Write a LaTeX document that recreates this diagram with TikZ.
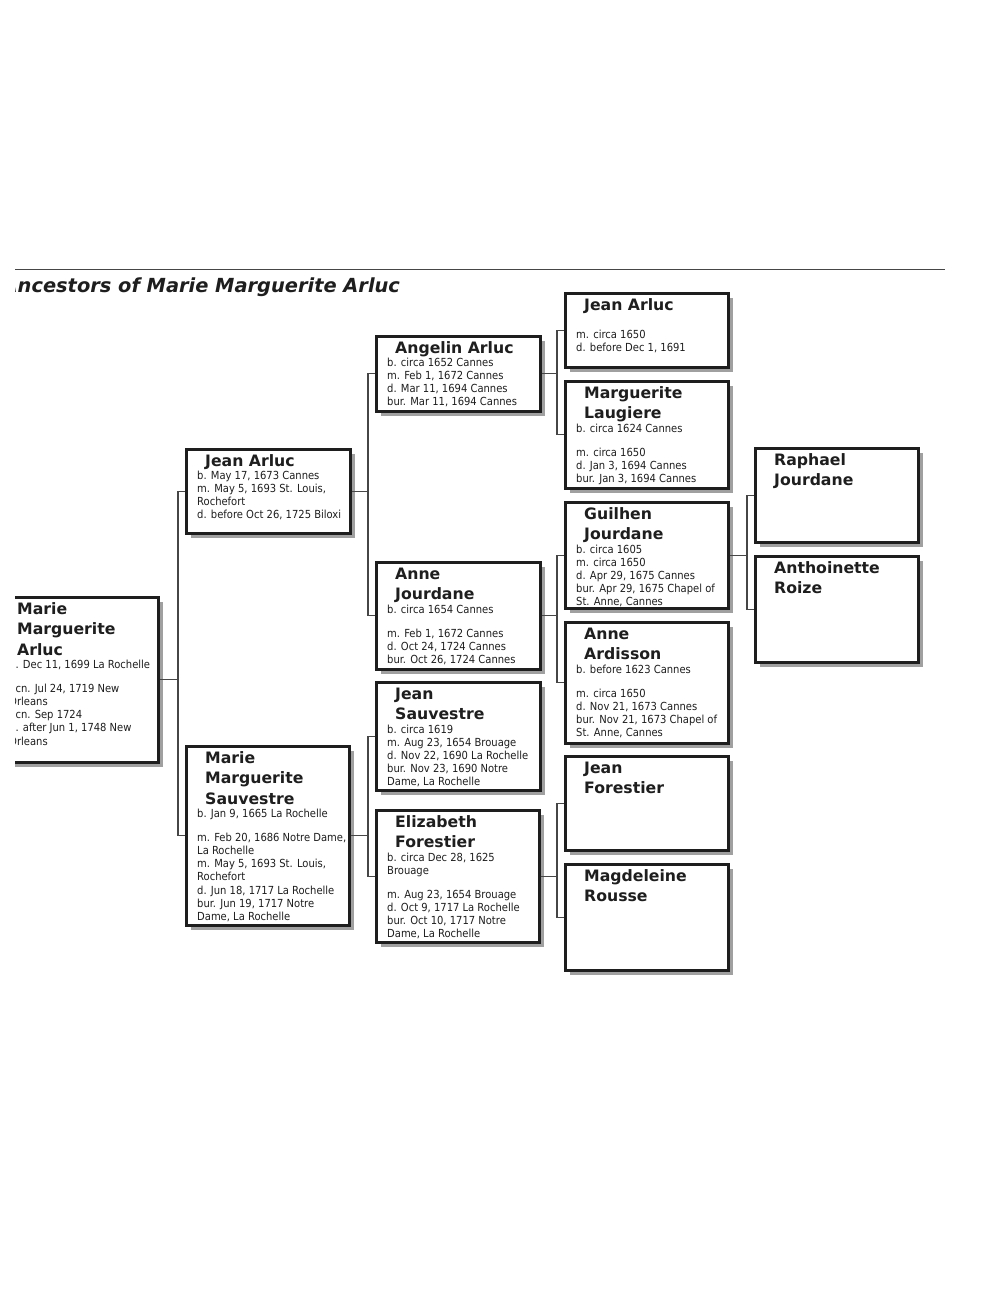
\documentclass[tikz,border=0pt]{standalone}
\usepackage{fontspec}
\setmainfont{DejaVu Sans}
\newfontfamily\condfont{DejaVu Sans Condensed}
\usetikzlibrary{shadows}
\definecolor{cink}{RGB}{30,30,30}
\definecolor{cline}{RGB}{70,70,70}
\definecolor{cshade}{RGB}{160,160,160}

% one ancestor card: id, x, y, width, height, names, offset of the facts, facts
\newcommand{\person}[8]{%
  \node[card, minimum width=#4pt, minimum height=#5pt] (#1) at (#2,#3) {};
  \node[pname] (#1-n) at ([shift={(20,18)}]#1.north west)
    {\begin{tabular}[t]{@{}l@{}}#6\end{tabular}};
  \if\relax\detokenize{#8}\relax\else
    \node[pinfo] (#1-i) at ([shift={(12,#7)}]#1.north west)
      {\begin{tabular}[t]{@{}l@{}}#8\end{tabular}};
  \fi
}

\begin{document}
\begin{tikzpicture}[x=1pt,y=-1pt,
  card/.style={draw=cink,line width=2.6pt,fill=white,anchor=north west,inner sep=0pt,
    drop shadow={shadow xshift=5pt,shadow yshift=-5pt,fill=cshade,opacity=1}},
  pname/.style={anchor=base west,inner sep=0pt,text=cink,
    font=\bfseries\fontsize{15.7}{20.5}\selectfont},
  pinfo/.style={anchor=base west,inner sep=0pt,text=cink,
    font=\condfont\fontsize{11.1}{13.1}\selectfont},
  heading/.style={anchor=base west,inner sep=0pt,text=cink,
    font=\bfseries\itshape\fontsize{19.4}{22}\selectfont},
  link/.style={draw=cline,line width=1.1pt},
]
\useasboundingbox (0,0) rectangle (992,1292);
\fill[white] (0,0) rectangle (992,1292);
\begin{scope}
\clip (15,0) rectangle (992,1292);

\draw[cline,line width=1.3pt] (15,269.5) -- (945,269.5);
\node[heading] (title) at (2.5,292) {Ancestors of Marie Marguerite Arluc};

% generation 1 and 2
\person{root}{-3}{596}{160}{165}{Marie\\Marguerite\\Arluc}{72.5}{b. Dec 11, 1699 La Rochelle\\[11pt]
  \phantom{b}cn. Jul 24, 1719 New\\ Orleans\\ \phantom{b}cn. Sep 1724\\ d. after Jun 1, 1748 New\\ Orleans}
\person{ja2}{185}{448}{164}{84}{Jean Arluc}{31.5}{b. May 17, 1673 Cannes\\ m. May 5, 1693 St. Louis,\\
  Rochefort\\ d. before Oct 26, 1725 Biloxi}
\person{mms}{185}{745}{163}{179}{Marie\\Marguerite\\Sauvestre}{72.5}{b. Jan 9, 1665 La Rochelle\\[11pt]
  m. Feb 20, 1686 Notre Dame,\\ La Rochelle\\ m. May 5, 1693 St. Louis,\\ Rochefort\\
  d. Jun 18, 1717 La Rochelle\\ bur. Jun 19, 1717 Notre\\ Dame, La Rochelle}

% generation 3
\person{angelin}{375}{335}{164}{75}{Angelin Arluc}{31.5}{b. circa 1652 Cannes\\ m. Feb 1, 1672 Cannes\\
  d. Mar 11, 1694 Cannes\\ bur. Mar 11, 1694 Cannes}
\person{anne}{375}{561}{164}{107}{Anne\\Jourdane}{52}{b. circa 1654 Cannes\\[11pt] m. Feb 1, 1672 Cannes\\
  d. Oct 24, 1724 Cannes\\ bur. Oct 26, 1724 Cannes}
\person{jsauv}{375}{681}{164}{108}{Jean\\Sauvestre}{52}{b. circa 1619\\ m. Aug 23, 1654 Brouage\\
  d. Nov 22, 1690 La Rochelle\\ bur. Nov 23, 1690 Notre\\ Dame, La Rochelle}
\person{eliz}{375}{809}{163}{132}{Elizabeth\\Forestier}{52}{b. circa Dec 28, 1625\\ Brouage\\[11pt]
  m. Aug 23, 1654 Brouage\\ d. Oct 9, 1717 La Rochelle\\ bur. Oct 10, 1717 Notre\\ Dame, La Rochelle}

% generation 4
\person{jarluc}{564}{292}{163}{74}{Jean Arluc}{46}{m. circa 1650\\ d. before Dec 1, 1691}
\person{laugiere}{564}{380}{163}{107}{Marguerite\\Laugiere}{52}{b. circa 1624 Cannes\\[11pt] m. circa 1650\\
  d. Jan 3, 1694 Cannes\\ bur. Jan 3, 1694 Cannes}
\person{guilhen}{564}{501}{163}{106}{Guilhen\\Jourdane}{52}{b. circa 1605\\ m. circa 1650\\
  d. Apr 29, 1675 Cannes\\ bur. Apr 29, 1675 Chapel of\\ St. Anne, Cannes}
\person{ardisson}{564}{621}{163}{121}{Anne\\Ardisson}{52}{b. before 1623 Cannes\\[11pt] m. circa 1650\\
  d. Nov 21, 1673 Cannes\\ bur. Nov 21, 1673 Chapel of\\ St. Anne, Cannes}
\person{jforest}{564}{755}{163}{94}{Jean\\Forestier}{0}{}
\person{rousse}{564}{863}{163}{106}{Magdeleine\\Rousse}{0}{}

% generation 5
\person{raphael}{754}{447}{163}{94}{Raphael\\Jourdane}{0}{}
\person{roize}{754}{555}{163}{106}{Anthoinette\\Roize}{0}{}

% brackets
\draw[link] (root.east) -- ([xshift=-7pt]ja2.west |- root.east);
\draw[link] (ja2.west) -- ++(-7,0) |- (mms.west);
\draw[link] (ja2.east) -- ([xshift=-7pt]angelin.west |- ja2.east);
\draw[link] (angelin.west) -- ++(-7,0) |- (anne.west);
\draw[link] (mms.east) -- ([xshift=-7pt]jsauv.west |- mms.east);
\draw[link] (jsauv.west) -- ++(-7,0) |- (eliz.west);
\draw[link] (angelin.east) -- ([xshift=-7pt]jarluc.west |- angelin.east);
\draw[link] (jarluc.west) -- ++(-7,0) |- (laugiere.west);
\draw[link] (anne.east) -- ([xshift=-7pt]guilhen.west |- anne.east);
\draw[link] (guilhen.west) -- ++(-7,0) |- (ardisson.west);
\draw[link] (eliz.east) -- ([xshift=-7pt]jforest.west |- eliz.east);
\draw[link] (jforest.west) -- ++(-7,0) |- (rousse.west);
\draw[link] (guilhen.east) -- ([xshift=-7pt]raphael.west |- guilhen.east);
\draw[link] (raphael.west) -- ++(-7,0) |- (roize.west);
\end{scope}
\end{tikzpicture}
\end{document}
